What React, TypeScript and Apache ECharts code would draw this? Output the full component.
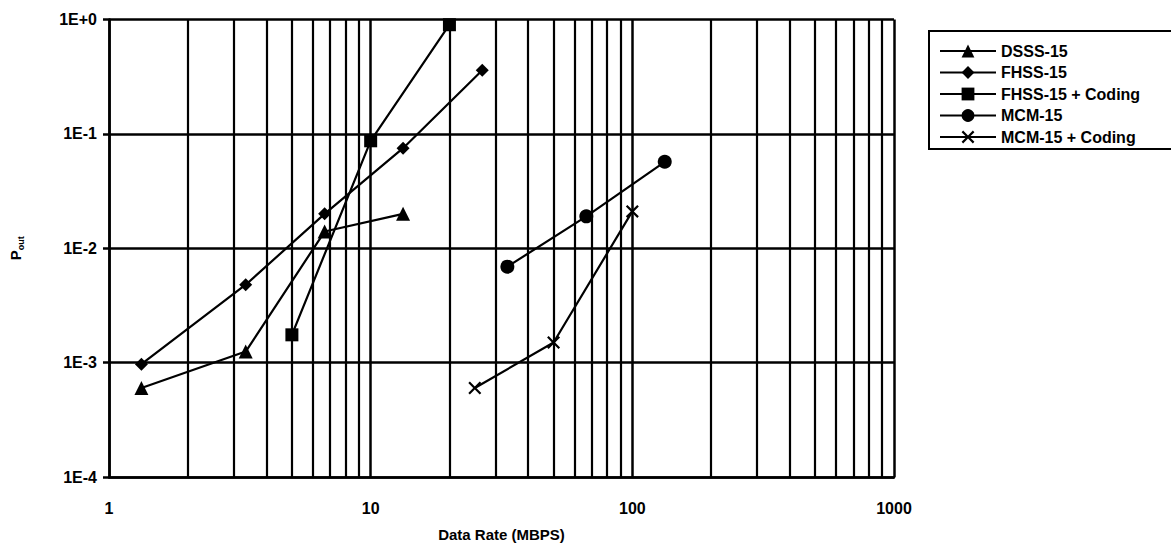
import React, { useEffect, useRef } from "react";
import * as echarts from "echarts";

const FONT = "'Liberation Sans', Arial, Helvetica, sans-serif";

const seriesNames = ["DSSS-15", "FHSS-15", "FHSS-15 + Coding", "MCM-15", "MCM-15 + Coding"];

const dsss15: [number, number][] = [
  [1.33, 6.0e-4],
  [3.33, 1.25e-3],
  [6.67, 1.4e-2],
  [13.3, 2.0e-2],
];
const fhss15: [number, number][] = [
  [1.33, 9.7e-4],
  [3.33, 4.8e-3],
  [6.67, 2.0e-2],
  [13.3, 7.5e-2],
  [26.7, 0.36],
];
const fhss15Coding: [number, number][] = [
  [5, 1.75e-3],
  [10, 8.7e-2],
  [20, 0.9],
];
const mcm15: [number, number][] = [
  [33.3, 6.9e-3],
  [66.7, 1.9e-2],
  [133, 5.7e-2],
];
const mcm15Coding: [number, number][] = [
  [25, 6.0e-4],
  [50, 1.5e-3],
  [100, 2.1e-2],
];

const xTickLabels: Record<number, string> = { 1: "1", 10: "10", 100: "100", 1000: "1000" };
const yTickLabels: Record<number, string> = {
  0: "1E+0",
  [-1]: "1E-1",
  [-2]: "1E-2",
  [-3]: "1E-3",
  [-4]: "1E-4",
};
const xMinorGrid = [
  2, 3, 4, 5, 6, 7, 8, 9, 20, 30, 40, 50, 60, 70, 80, 90, 200, 300, 400, 500, 600, 700, 800, 900,
];

const crossPath =
  "path://M0,1.2L1.2,0L5,3.8L8.8,0L10,1.2L6.2,5L10,8.8L8.8,10L5,6.2L1.2,10L0,8.8L3.8,5Z";

export default function App() {
  const ref = useRef<HTMLDivElement>(null);
  useEffect(() => {
    document.body.style.margin = "0";
    if (!ref.current) return;
    const chart = echarts.init(ref.current, null, { renderer: "svg" });
    const lineBase = (name: string, data: [number, number][], symbol: string, size: number) => ({
      name,
      type: "line",
      data,
      symbol,
      symbolSize: size,
      showAllSymbol: true,
      itemStyle: { color: "#000" },
      lineStyle: { color: "#000", width: 2.2 },
      z: 5,
    });
    const txt = { fontFamily: FONT, fontWeight: "bold", fontSize: 16, color: "#000" };
    chart.setOption({
      animation: false,
      backgroundColor: "#fff",
      textStyle: { fontFamily: FONT },
      grid: { left: 107, right: 1171 - 894, top: 19.5, bottom: 552 - 477, containLabel: false },
      xAxis: {
        type: "log",
        logBase: 10,
        min: 1,
        max: 1000,
        name: "Data Rate (MBPS)",
        nameLocation: "middle",
        nameGap: 50,
        nameTextStyle: { ...txt, fontSize: 15 },
        axisLine: { show: true, lineStyle: { color: "#000", width: 2.5 } },
        axisTick: { show: false },
        axisLabel: {
          ...txt,
          margin: 23,
          formatter: (v: number) => xTickLabels[Math.round(v)] ?? String(v),
        },
        splitLine: { show: true, lineStyle: { color: "#000", width: 2.5 } },
      },
      yAxis: {
        type: "log",
        logBase: 10,
        min: 1e-4,
        max: 1,
        name: "{p|P}{s|out}",
        nameLocation: "middle",
        nameRotate: 90,
        nameGap: 84,
        nameTextStyle: {
          color: "#000",
          rich: {
            p: { fontFamily: FONT, fontWeight: "bold", fontSize: 15, color: "#000" },
            s: {
              fontFamily: FONT,
              fontWeight: "bold",
              fontSize: 9,
              color: "#000",
              padding: [10, 0, 0, 0],
            },
          },
        },
        axisLine: { show: true, lineStyle: { color: "#000", width: 2.5 } },
        axisTick: { show: true, length: 6, lineStyle: { color: "#000", width: 2.5 } },
        axisLabel: {
          ...txt,
          margin: 12,
          formatter: (v: number) => yTickLabels[Math.round(Math.log10(v))] ?? String(v),
        },
        splitLine: { show: true, lineStyle: { color: "#000", width: 2.5 } },
      },
      legend: {
        data: seriesNames,
        orient: "vertical",
        left: 929,
        top: 31,
        itemWidth: 56,
        itemHeight: 16,
        itemGap: 5.5,
        padding: [12, 60, 4, 10],
        borderColor: "#000",
        borderWidth: 2,
        borderRadius: 0,
        backgroundColor: "#fff",
        textStyle: { ...txt, lineHeight: 16 },
      },
      series: [
        {
          name: "grid",
          type: "line",
          data: [],
          silent: true,
          z: 1,
          markLine: {
            silent: true,
            symbol: ["none", "none"],
            label: { show: false },
            lineStyle: { color: "#000", width: 2.2, type: "solid" },
            emphasis: { disabled: true },
            data: xMinorGrid.map((v) => ({ xAxis: v })),
          },
        },
        lineBase(seriesNames[0], dsss15, "triangle", 14),
        lineBase(seriesNames[1], fhss15, "diamond", 13),
        lineBase(seriesNames[2], fhss15Coding, "rect", 13),
        lineBase(seriesNames[3], mcm15, "circle", 14),
        lineBase(seriesNames[4], mcm15Coding, crossPath, 13),
      ],
    });
    return () => chart.dispose();
  }, []);
  return <div ref={ref} style={{ width: 1171, height: 552 }} />;
}
